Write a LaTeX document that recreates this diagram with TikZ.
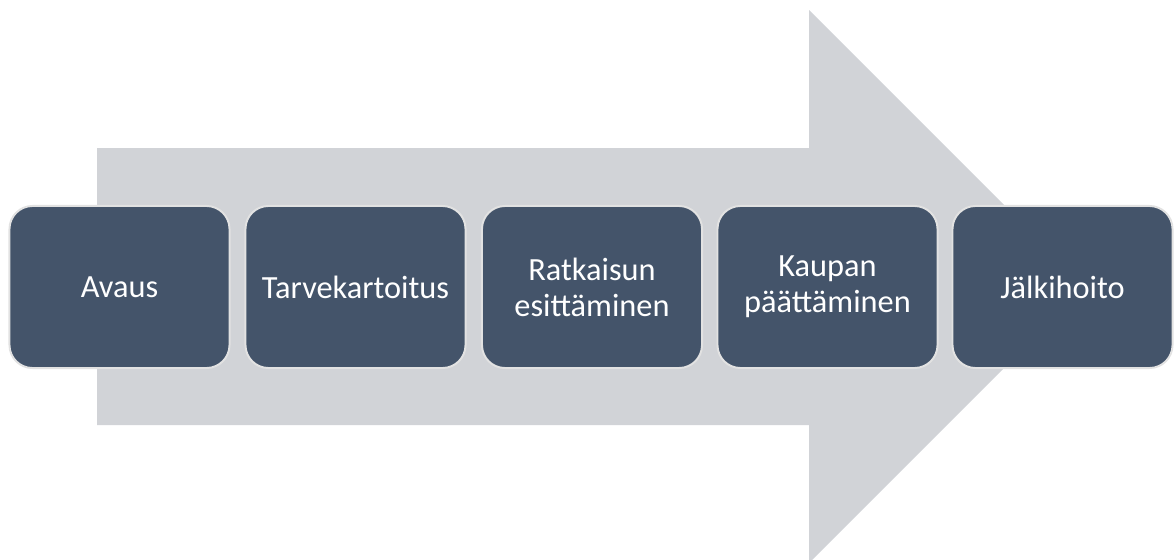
\documentclass[tikz,border=0pt]{standalone}
\usepackage{fontspec}
\setmainfont{Carlito}
\usepackage{tikz}
\usetikzlibrary{positioning}

\definecolor{arrowgrey}{HTML}{D1D3D7}
\definecolor{slate}{HTML}{44546A}
\definecolor{rimgrey}{HTML}{E2E2E2}

\tikzset{
    phase/.style={rectangle, rounded corners=0.575cm, fill=slate, draw=rimgrey,
        line width=1.4pt, minimum width=5.5cm, minimum height=4.05cm,
        text=white, align=center, font=\fontsize{23}{25.5}\selectfont}
}

\begin{document}
\begin{tikzpicture}[x=0.025cm, y=-0.025cm]
    \clip (0,0) rectangle (1174,559);
    \useasboundingbox (0,0) rectangle (1174,559);

    \fill[arrowgrey] (97,148) -- (809,148) -- (809,10) -- (1085.5,286.5)
        -- (809,563) -- (809,425) -- (97,425) -- cycle;

    \node[phase] (avaus) at (119.5,287) {Avaus};
    \node[phase] (tarve) at (355.5,287) {Tarvekartoitus};
    \node[phase] (ratkaisu) at (592,287) {Ratkaisun\\esittäminen};
    \node[phase] (kauppa) at (827.5,287) {Kaupan\\päättäminen};
    \node[phase] (jalki) at (1062.5,287) {Jälkihoito};
\end{tikzpicture}
\end{document}
